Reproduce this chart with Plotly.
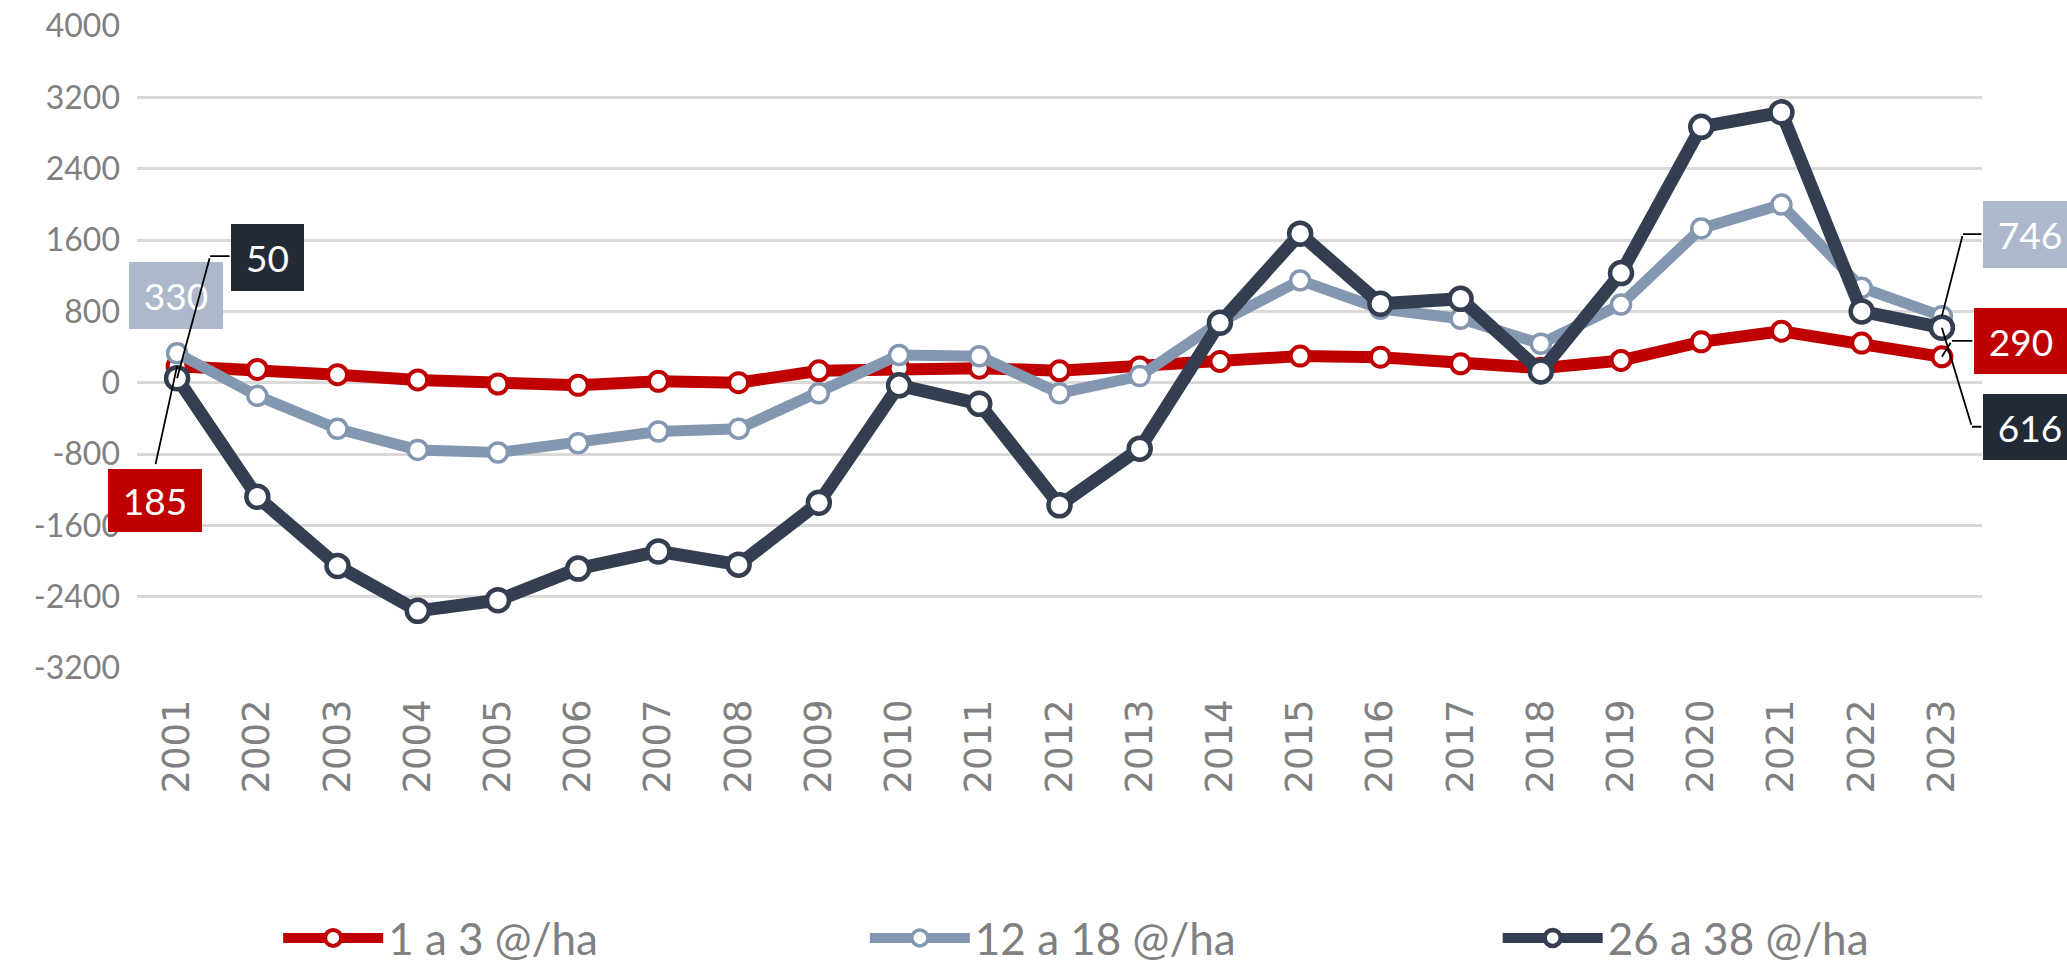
import plotly.graph_objects as go

years = list(range(2001, 2024))
year_labels = [str(y) for y in years]

serie_1a3 = [185, 148, 89, 30, -15, -30, 15, 0, 133, 163, 163, 133, 177,
             238, 298, 286, 212, 163, 249, 458, 577, 444, 290]
serie_12a18 = [330, -148, -518, -754, -784, -680, -547, -518, -118, 310, 296, -118, 74,
               680, 1147, 829, 717, 436, 877, 1730, 1997, 1065, 746]
serie_26a38 = [50, -1280, -2056, -2559, -2440, -2085, -1893, -2041, -1346, -30, -237, -1375, -740,
               672, 1671, 885, 941, 126, 1229, 2869, 3032, 799, 616]

names = ["1 a 3 @/ha", "12 a 18 @/ha", "26 a 38 @/ha"]
colors = ["#c00000", "#8497b0", "#333f50"]
label_bg = ["#c00000", "#adb9ca", "#222a35"]
ytick_vals = [-3200, -2400, -1600, -800, 0, 800, 1600, 2400, 3200, 4000]
ytick_text = ["-3200", "-2400", "-1600", "-800", "0", "800", "1600", "2400", "3200", "4000"]

series = [serie_1a3, serie_12a18, serie_26a38]
line_w = [12, 11, 13]
mk_size = [19, 19, 22]
mk_lw = [4, 3.5, 4.5]
legend_ids = ["legend", "legend2", "legend3"]
legend_x = [0.0765, 0.3945, 0.7375]

fig = go.Figure()
for s, n, c, lw, ms, mlw, lg in zip(series, names, colors, line_w, mk_size, mk_lw, legend_ids):
    fig.add_trace(go.Scatter(
        x=years, y=s, name=n, mode="lines+markers",
        line=dict(color=c, width=lw),
        marker=dict(symbol="circle", size=ms, color="white", line=dict(color=c, width=mlw)),
        cliponaxis=False, legend=lg,
    ))

LBL_FONT = dict(family="Lato, Open Sans, sans-serif", size=37, color="white")


def box(xv, yv, text, bg, dx, dy, w, h):
    # dx, dy: screen pixel offset of the box centre from its data point (dy positive = down)
    fig.add_annotation(x=xv, y=yv, xref="x", yref="y", text=text, showarrow=False,
                       xshift=dx, yshift=-dy, width=w, height=h, bgcolor=bg,
                       borderpad=0, borderwidth=0, font=LBL_FONT,
                       xanchor="center", yanchor="middle", align="center", valign="middle")


def leader(xv, yv, pts):
    # pts: screen pixel offsets (dy positive = down) of the leader polyline from the data point
    prev = (0, 0)
    for p in pts:
        fig.add_annotation(x=xv, y=yv, xref="x", yref="y", text=" ", font=dict(size=1),
                           showarrow=True, arrowhead=0, arrowwidth=1.8, arrowcolor="black",
                           xshift=prev[0], yshift=-prev[1],
                           ax=p[0] - prev[0], ay=p[1] - prev[1],
                           standoff=0, startstandoff=0)
        prev = p


first, last = years[0], years[-1]
# 2001 labels
box(first, serie_12a18[0], str(serie_12a18[0]), label_bg[1], -1, -58, 94, 67)
box(first, serie_1a3[0], str(serie_1a3[0]), label_bg[0], -22, 134, 94, 63)
box(first, serie_26a38[0], str(serie_26a38[0]), label_bg[2], 90, -121, 73, 67)
# 2023 labels
box(last, serie_12a18[-1], str(serie_12a18[-1]), label_bg[1], 88, -82, 94, 67)
box(last, serie_1a3[-1], str(serie_1a3[-1]), label_bg[0], 79, -16, 94, 66)
box(last, serie_26a38[-1], str(serie_26a38[-1]), label_bg[2], 88, 99, 94, 66)

leader(first, serie_1a3[0], [(-22, 100)])
leader(first, serie_26a38[0], [(33, -122), (54, -122)])
leader(last, serie_12a18[-1], [(21, -82), (41, -82)])
leader(last, serie_1a3[-1], [(10, -16), (32, -16)])
leader(last, serie_26a38[-1], [(30, 99), (41, 99)])

LEG_FONT = dict(family="Lato, Open Sans, sans-serif", size=44, color="#808080")
legends = {}
for lg, lx in zip(legend_ids, legend_x):
    legends[lg] = dict(orientation="h", x=lx, xanchor="left", y=-0.421, yanchor="middle",
                       font=LEG_FONT, itemwidth=100, bgcolor="rgba(0,0,0,0)")

fig.update_layout(
    width=2067, height=969,
    margin=dict(l=137, r=85, t=26, b=301, autoexpand=False),
    paper_bgcolor="white", plot_bgcolor="white",
    showlegend=True,
    xaxis=dict(range=[2000.5, 2023.5], tickmode="array", tickvals=years, ticktext=year_labels,
               tickangle=-90, showgrid=False, zeroline=False, showline=False, ticks="",
               tickfont=dict(family="DejaVu Sans", size=37, color="#808080"),
               ticklabelstandoff=23),
    yaxis=dict(range=[-3200, 4000], tickmode="array", tickvals=ytick_vals, ticktext=ytick_text,
               showgrid=True, gridcolor="#d9d9d9", gridwidth=2.5, zeroline=False,
               showline=False, ticks="",
               tickfont=dict(family="Lato, Open Sans, sans-serif", size=32, color="#808080"),
               ticklabelstandoff=16),
    **legends,
)

fig.write_html("out.html", config={"displayModeBar": False},
               post_script="document.body.style.margin='0';document.body.style.overflow='hidden';")
